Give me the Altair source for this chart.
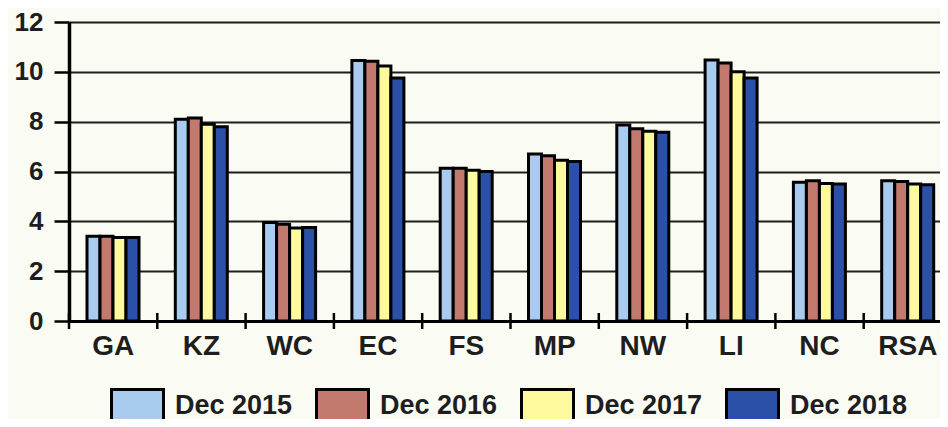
import altair as alt
import pandas as pd

categories = ["GA", "KZ", "WC", "EC", "FS", "MP", "NW", "LI", "NC", "RSA"]
series = ["Dec 2015", "Dec 2016", "Dec 2017", "Dec 2018"]
dec2015 = [3.40, 8.10, 3.95, 10.45, 6.13, 6.70, 7.87, 10.47, 5.57, 5.63]
dec2016 = [3.40, 8.15, 3.88, 10.42, 6.13, 6.63, 7.72, 10.35, 5.63, 5.60]
dec2017 = [3.35, 7.90, 3.73, 10.23, 6.05, 6.45, 7.62, 10.00, 5.52, 5.50]
dec2018 = [3.35, 7.80, 3.75, 9.75, 6.00, 6.40, 7.58, 9.75, 5.50, 5.47]
colors = ["#a9cbef", "#c27a6f", "#fcfa9c", "#2b50a8"]
y_ticks = list(range(0, 13))

rows = []
for s, vals in zip(series, [dec2015, dec2016, dec2017, dec2018]):
    for c, v in zip(categories, vals):
        rows.append({"cat": c, "series": s, "value": v})
df = pd.DataFrame(rows)
cat_df = pd.DataFrame({"cat": categories})

FONT = "Liberation Sans"
INK = "#1e1e1e"

x_scale = alt.Scale(domain=categories, range=[0, 883], paddingInner=0, paddingOuter=0)
y_scale = alt.Scale(domain=[0, 12], nice=False)

bars = alt.Chart(df).mark_bar(stroke="black", strokeWidth=3, opacity=1).encode(
    x=alt.X("cat:N", sort=categories, scale=x_scale,
            axis=alt.Axis(title=None, labelAngle=0, ticks=False, tickSize=0,
                          domainColor="black", domainWidth=3,
                          labelFont=FONT, labelFontSize=28, labelFontWeight="bold",
                          labelColor=INK, labelPadding=11)),
    xOffset=alt.XOffset("series:N", sort=series,
                        scale=alt.Scale(range=[18, 70], paddingInner=0, paddingOuter=0)),
    y=alt.Y("value:Q", scale=y_scale,
            axis=alt.Axis(title=None, values=y_ticks,
                          labelExpr="datum.value % 2 === 0 ? datum.label : ''",
                          tickSize={"condition": {"test": "datum.value % 2 === 0", "value": 15}, "value": 10},
                          tickColor="black", tickWidth=2.5,
                          domainColor="black", domainWidth=3.5,
                          grid=True,
                          gridOpacity={"condition": {"test": "datum.value % 2 === 0", "value": 1}, "value": 0},
                          gridColor=INK, gridWidth=2,
                          labelFont=FONT, labelFontSize=26, labelFontWeight="bold",
                          labelColor=INK, labelPadding=11)),
    color=alt.Color("series:N", sort=series,
                    scale=alt.Scale(domain=series, range=colors),
                    legend=alt.Legend(orient="none", legendX=41, legendY=356,
                                      direction="horizontal", columns=4, title=None,
                                      symbolType="M-1,-0.62L1,-0.62L1,0.62L-1,0.62Z",
                                      symbolSize=2704, symbolStrokeColor="black",
                                      symbolStrokeWidth=3, symbolOpacity=1,
                                      labelFont=FONT, labelFontSize=27,
                                      labelFontWeight="bold", labelColor=INK,
                                      labelOffset=10, columnPadding=17, padding=0)),
)

xticks = alt.Chart(cat_df).mark_tick(orient="vertical", color="black",
                                     thickness=2.5, size=16, opacity=1).encode(
    x=alt.X("cat:N", sort=categories, bandPosition=0, scale=x_scale),
    y=alt.datum(0, type="quantitative"),
)

chart = alt.layer(bars, xticks).properties(
    width=871, height=299,
    autosize=alt.AutoSizeParams(type="none"),
    padding={"left": 61, "top": 14, "right": 0, "bottom": 98},
    background="#fafcf4",
).configure_view(stroke=None)

chart.save("out.html", embed_options={"renderer": "svg", "actions": False})
